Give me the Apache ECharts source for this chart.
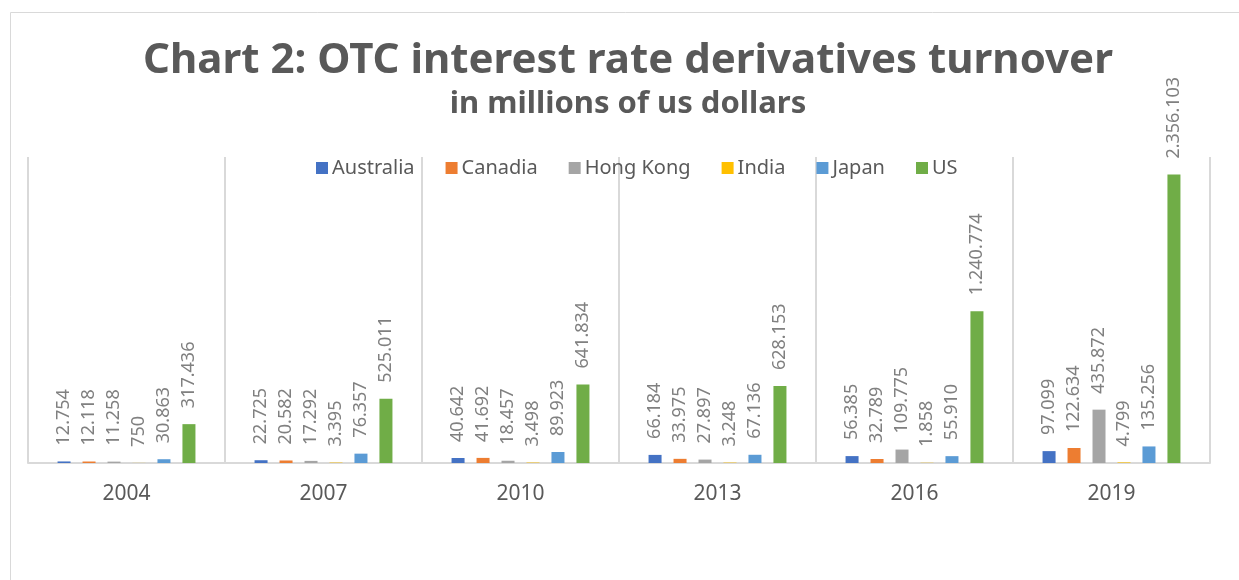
<!DOCTYPE html>
<html>
<head>
<meta charset="utf-8">
<script src="https://cdn.jsdelivr.net/npm/echarts@6/dist/echarts.min.js"></script>
<style>
html,body{margin:0;padding:0;background:#fff;}
#chart{width:1239px;height:580px;}
</style>
</head>
<body>
<div id="chart"></div>
<script>
var years = ['2004', '2007', '2010', '2013', '2016', '2019'];
var australia = [12754, 22725, 40642, 66184, 56385, 97099];
var canadia = [12118, 20582, 41692, 33975, 32789, 122634];
var hongKong = [11258, 17292, 18457, 27897, 109775, 435872];
var india = [750, 3395, 3498, 3248, 1858, 4799];
var japan = [30863, 76357, 89923, 67136, 55910, 135256];
var us = [317436, 525011, 641834, 628153, 1240774, 2356103];
var seriesNames = ['Australia', 'Canadia', 'Hong Kong', 'India', 'Japan', 'US'];
var seriesData = [australia, canadia, hongKong, india, japan, us];
var colors = ['#4472C4', '#ED7D31', '#A5A5A5', '#FFC000', '#5B9BD5', '#70AD47'];
var titleText = 'Chart 2: OTC interest rate derivatives turnover';
var subtitleText = 'in millions of us dollars';

function fmt(v) {
  return String(v).replace(/\B(?=(\d{3})+(?!\d))/g, '.');
}

var FONT = '"Noto Sans", "Open Sans", sans-serif';
var chart = echarts.init(document.getElementById('chart'), null, {renderer: 'canvas'});

var series = seriesNames.map(function (name, i) {
  return {
    name: name,
    type: 'bar',
    data: seriesData[i],
    barGap: '92%',
    barCategoryGap: '30%',
    itemStyle: {color: colors[i]},
    label: {
      show: true,
      position: 'top',
      rotate: 90,
      align: 'left',
      verticalAlign: 'middle',
      distance: 16,
      color: '#808080',
      fontFamily: FONT,
      fontSize: 18,
      formatter: function (p) { return fmt(p.value); }
    }
  };
});

chart.setOption({
  animation: false,
  color: colors,
  graphic: [
    {type: 'rect', shape: {x: 10.5, y: 12.5, width: 1300, height: 700}, style: {fill: 'none', stroke: '#d9d9d9', lineWidth: 1}, z: -10},
    {type: 'text', x: 628, y: 61, style: {text: titleText, fill: '#595959', font: 'bold 42px "Noto Sans", sans-serif', textAlign: 'center', textVerticalAlign: 'middle'}},
    {type: 'text', x: 628, y: 104, style: {text: subtitleText, fill: '#595959', font: 'bold 31px "Noto Sans", sans-serif', textAlign: 'center', textVerticalAlign: 'middle'}}
  ],
  legend: {
    data: seriesNames,
    top: 153,
    left: 311,
    icon: 'rect',
    itemWidth: 12,
    itemHeight: 12,
    itemGap: 31,
    textStyle: {color: '#595959', fontSize: 20, fontFamily: FONT, padding: [0, 0, 0, -1]}
  },
  grid: {left: 28, right: 29, top: 157, bottom: 117, containLabel: false},
  xAxis: {
    type: 'category',
    data: years,
    axisTick: {show: false},
    axisLine: {lineStyle: {color: '#d9d9d9', width: 2}},
    splitLine: {show: true, lineStyle: {color: '#d9d9d9', width: 2}},
    axisLabel: {color: '#595959', fontSize: 21, fontFamily: FONT, margin: 21}
  },
  yAxis: {
    type: 'value',
    min: 0,
    max: 2500000,
    show: false,
    splitLine: {show: false}
  },
  series: series
});
</script>
</body>
</html>
